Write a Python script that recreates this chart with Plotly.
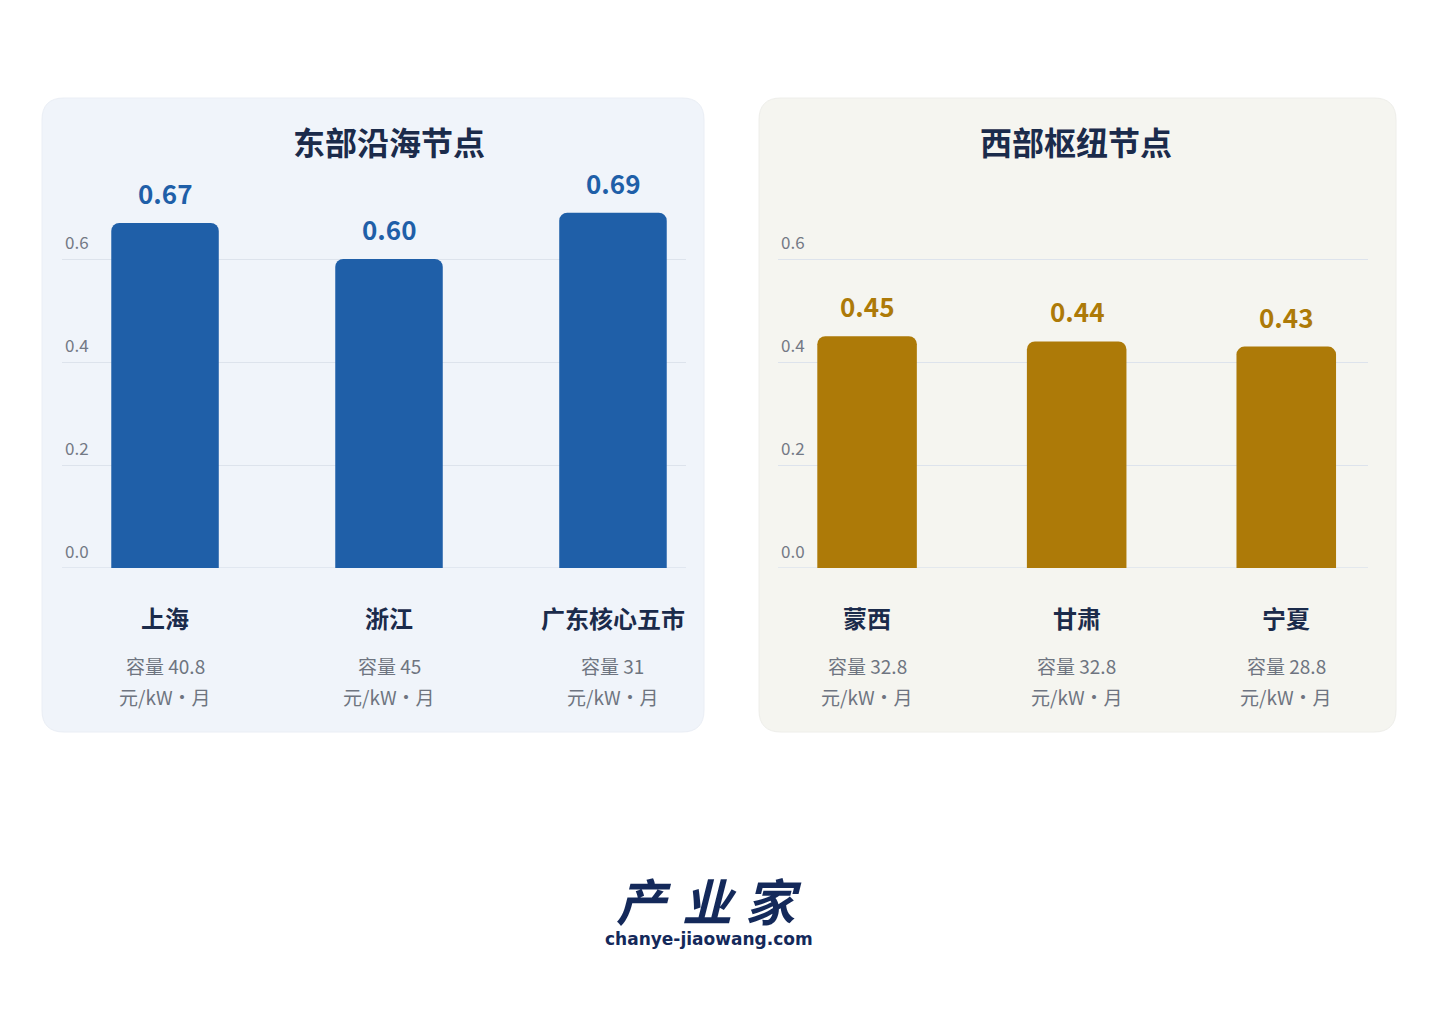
import plotly.graph_objects as go

# ---- data ----
east_title = "东部沿海节点"
east_regions = ["上海", "浙江", "广东核心五市"]
east_prices = [0.67, 0.60, 0.69]
east_capacity = [40.8, 45, 31]

west_title = "西部枢纽节点"
west_regions = ["蒙西", "甘肃", "宁夏"]
west_prices = [0.45, 0.44, 0.43]
west_capacity = [32.8, 32.8, 28.8]

ytick_vals = [0.0, 0.2, 0.4, 0.6]
ytick_text = ["0.0", "0.2", "0.4", "0.6"]
unit_text = "元/kW・月"
brand_chars = ["产", "业", "家"]
brand_url = "chanye-jiaowang.com"

# ---- styles ----
OX, OY = 8, 8            # page body margin
W, H = 1440 - 2 * OX, 1017 - 2 * OY
FONT = "Noto Sans CJK SC"
EAST_COLOR = "#1f5fa8"
WEST_COLOR = "#ad7a08"
NAVY = "#1b2b4b"
GRAY = "#6e7480"
GRID = "#dde3ec"


def px(x):
    return (x - OX) / W


def py(y):
    return 1 - (y - OY) / H


def rrect(x0, y0, x1, y1, r):
    X0, X1 = px(x0), px(x1)
    Y0, Y1 = py(y0), py(y1)  # Y0 top, Y1 bottom
    rx, ry = r / W, r / H
    return (f"M {X0+rx},{Y0} L {X1-rx},{Y0} Q {X1},{Y0} {X1},{Y0-ry} "
            f"L {X1},{Y1+ry} Q {X1},{Y1} {X1-rx},{Y1} "
            f"L {X0+rx},{Y1} Q {X0},{Y1} {X0},{Y1+ry} "
            f"L {X0},{Y0-ry} Q {X0},{Y0} {X0+rx},{Y0} Z")


fig = go.Figure()

# panel backgrounds
fig.add_shape(type="path", path=rrect(42, 98, 704, 732, 22), xref="paper", yref="paper",
              fillcolor="#f0f4fa", line=dict(color="#eaeef5", width=1), layer="below")
fig.add_shape(type="path", path=rrect(759, 98, 1396, 732, 22), xref="paper", yref="paper",
              fillcolor="#f5f5f0", line=dict(color="#eeeeea", width=1), layer="below")
# baseline gridlines at 0
for xr, yr in (("x domain", "y"), ("x2 domain", "y2")):
    fig.add_shape(type="line", xref=xr, yref=yr, x0=0, x1=1, y0=0, y1=0,
                  line=dict(color=GRID, width=1.5), layer="below")

fig.add_trace(go.Bar(
    x=list(range(len(east_regions))), y=east_prices,
    marker=dict(color=EAST_COLOR, cornerradius=8, line=dict(width=0)),
    width=0.48, xaxis="x", yaxis="y", hoverinfo="skip",
))
fig.add_trace(go.Bar(
    x=list(range(len(west_regions))), y=west_prices,
    marker=dict(color=WEST_COLOR, cornerradius=8, line=dict(width=0)),
    width=0.475, xaxis="x2", yaxis="y2", hoverinfo="skip",
))

y_top_px = 156
ydom = [py(568), py(y_top_px)]
yrange = [0, 0.8]

common_y = dict(
    range=yrange, domain=ydom, tickvals=ytick_vals, ticktext=ytick_text,
    showgrid=True, gridcolor=GRID, gridwidth=1.2, zeroline=False,
    ticklabelposition="inside top", ticks="", ticklabelshift=-4,
    tickfont=dict(family=FONT, size=17, color="#737985"),
    showline=False, fixedrange=True,
)
common_x = dict(showticklabels=False, showgrid=False, zeroline=False,
                showline=False, ticks="", fixedrange=True)

fig.update_layout(
    width=W, height=H,
    margin=dict(l=0, r=0, t=0, b=0),
    paper_bgcolor="white", plot_bgcolor="rgba(0,0,0,0)",
    showlegend=False,
    xaxis=dict(domain=[px(62), px(686)], range=[-0.46, 2.326], **common_x),
    yaxis=dict(anchor="x", **common_y),
    xaxis2=dict(domain=[px(778), px(1368)], range=[-0.425, 2.39], **common_x),
    yaxis2=dict(anchor="x2", **common_y),
)

annos = []
C = dict(xanchor="center", yanchor="middle", showarrow=False)
# titles
annos.append(dict(text=f"<b>{east_title}</b>", x=px(389), y=py(141), xref="paper", yref="paper",
                  font=dict(family=FONT, size=32, color=NAVY), **C))
annos.append(dict(text=f"<b>{west_title}</b>", x=px(1076), y=py(141), xref="paper", yref="paper",
                  font=dict(family=FONT, size=32, color=NAVY), **C))


def add_labels(regions, prices, caps, xref, yref, color):
    for i, (name, val, cap) in enumerate(zip(regions, prices, caps)):
        annos.append(dict(text=f"<b>{val:.2f}</b>", x=i, y=val, xref=xref, yref=yref,
                          xanchor="center", yanchor="bottom", yshift=10, showarrow=False,
                          font=dict(family=FONT, size=26, color=color)))
        annos.append(dict(text=f"<b>{name}</b>", x=i, y=py(617), xref=xref, yref="paper",
                          font=dict(family=FONT, size=24, color=NAVY), **C))
        annos.append(dict(text=f"容量 {cap:g}", x=i, y=py(665), xref=xref, yref="paper",
                          font=dict(family=FONT, size=19, color=GRAY), **C))
        annos.append(dict(text=unit_text, x=i, y=py(696), xref=xref, yref="paper",
                          font=dict(family=FONT, size=19, color=GRAY), **C))


add_labels(east_regions, east_prices, east_capacity, "x", "y", EAST_COLOR)
add_labels(west_regions, west_prices, west_capacity, "x2", "y2", WEST_COLOR)

# brand logo
for ch, cx in zip(brand_chars, [644, 709, 774]):
    annos.append(dict(text=f"<b>{ch}</b>", x=px(cx), y=py(899), xref="paper", yref="paper",
                      font=dict(family=FONT, size=50, color="#14295a", style="italic", weight=900),
                      **C))
annos.append(dict(text=f"<b>{brand_url}</b>", x=px(709), y=py(939), xref="paper", yref="paper",
                  font=dict(family="DejaVu Sans", size=17, color="#14295a"), **C))

fig.update_layout(annotations=annos)

fig.write_html("out.html")
